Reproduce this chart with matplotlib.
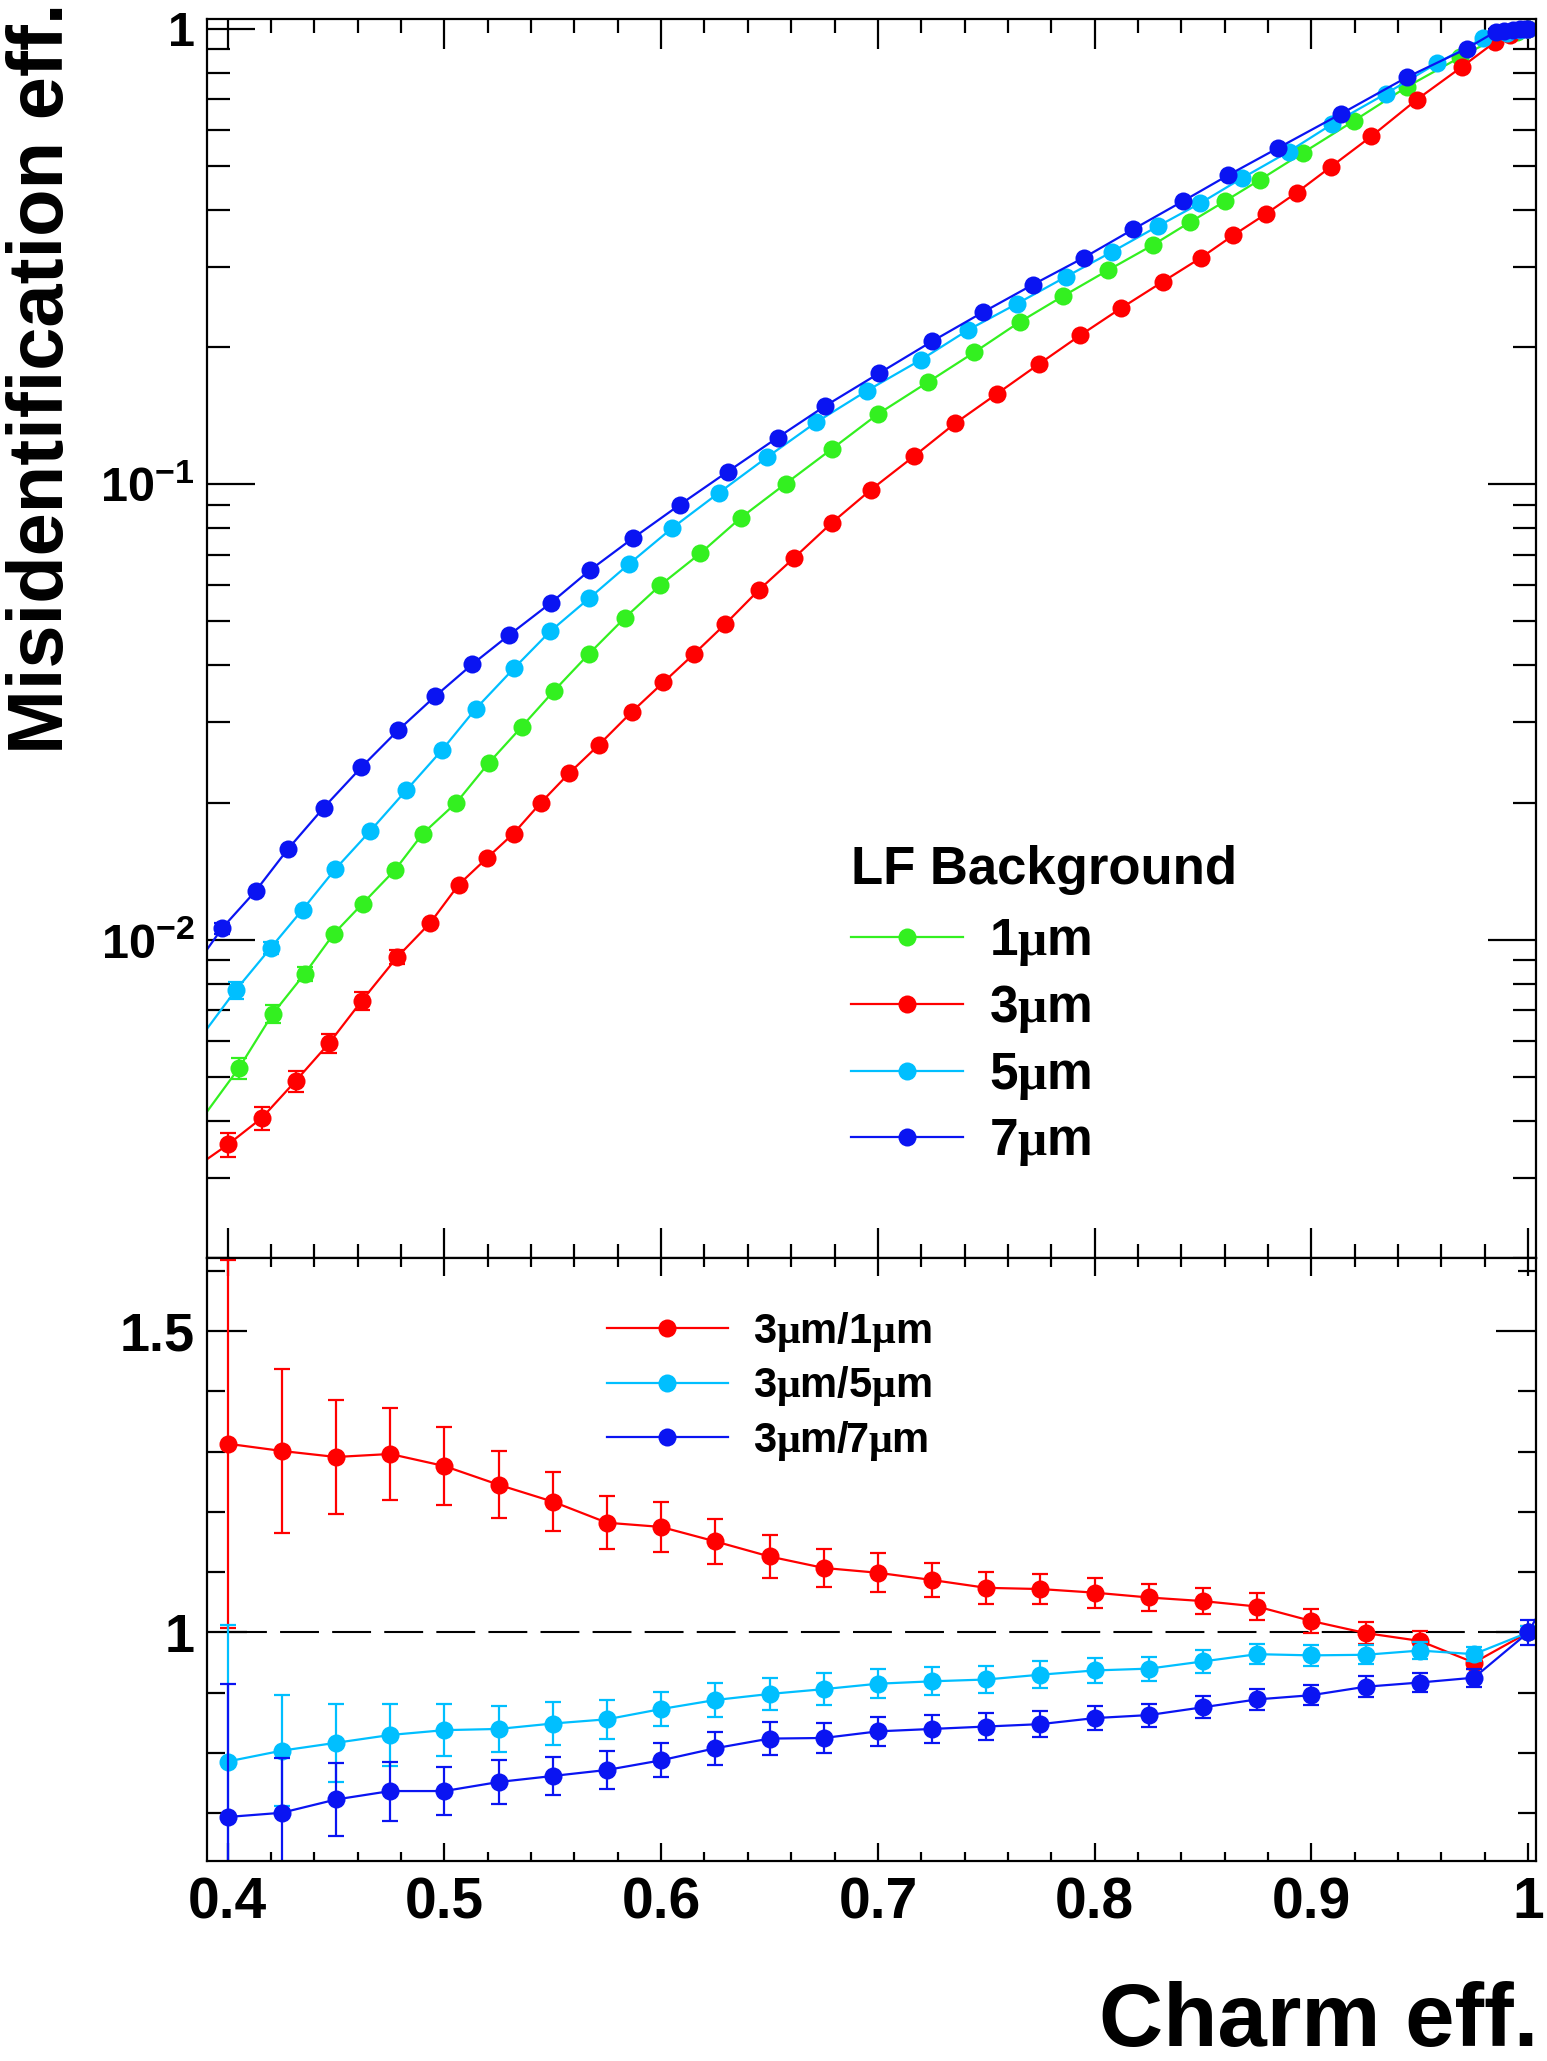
import numpy as np
import matplotlib.pyplot as plt
from matplotlib.ticker import FixedLocator, MultipleLocator, NullFormatter

plt.rcParams['font.family'] = ['Liberation Sans', 'DejaVu Sans']
plt.rcParams['font.weight'] = 'bold'
plt.rcParams['mathtext.fontset'] = 'custom'
plt.rcParams['mathtext.rm'] = 'Liberation Serif'
plt.rcParams['mathtext.it'] = 'Liberation Serif:italic'
plt.rcParams['mathtext.bf'] = 'Liberation Sans:bold'
plt.rcParams['lines.scale_dashes'] = False

# ---- top pad: misid. eff. vs charm eff. (first point of each list lies left of the frame)
green_x = [0.385, 0.4053, 0.4208, 0.4356, 0.4490, 0.4623, 0.4772, 0.4901, 0.5056, 0.5204, 0.5356, 0.5504,
           0.5667, 0.5833, 0.5996, 0.6181, 0.6368, 0.6574, 0.6786, 0.7000, 0.7233, 0.7444, 0.7654, 0.7856,
           0.8062, 0.8267, 0.8440, 0.8601, 0.8763, 0.8961, 0.9195, 0.9440, 0.9685, 0.9848, 0.9950, 1.0]
green_y = [0.00386, 0.00523, 0.00687, 0.00842, 0.0103, 0.0120, 0.01422, 0.0171, 0.0200, 0.0244, 0.0293, 0.0351,
           0.0424, 0.0509, 0.0600, 0.0705, 0.0844, 0.1002, 0.1193, 0.1425, 0.1677, 0.1946, 0.2270, 0.2590,
           0.2950, 0.3346, 0.3760, 0.4180, 0.4660, 0.5340, 0.6270, 0.7450, 0.8650, 0.9510, 0.9850, 1.0]
green_err = [0.00028, 0.00030, 0.00030]

red_x = [0.385, 0.4002, 0.4158, 0.4315, 0.4469, 0.4619, 0.4782, 0.4936, 0.5066, 0.5195, 0.5319, 0.5446,
         0.5576, 0.5714, 0.5864, 0.6010, 0.6152, 0.6296, 0.6450, 0.6615, 0.6788, 0.6969, 0.7165, 0.7358,
         0.7550, 0.7743, 0.7932, 0.8121, 0.8313, 0.8490, 0.8640, 0.8790, 0.8932, 0.9088, 0.9276, 0.9485,
         0.9695, 0.9846, 0.9916, 1.0]
red_y = [0.00316, 0.00355, 0.00406, 0.0049, 0.00593, 0.00734, 0.00915, 0.0109, 0.0132, 0.01508, 0.0171, 0.0200,
         0.0232, 0.0268, 0.0316, 0.0367, 0.0424, 0.0493, 0.0585, 0.0690, 0.0823, 0.0973, 0.1150, 0.1362,
         0.1580, 0.1835, 0.2120, 0.2433, 0.2780, 0.3140, 0.3520, 0.3920, 0.4366, 0.4966, 0.5800, 0.6980,
         0.8250, 0.9340, 0.9700, 1.0]
red_err = [0.00021, 0.00024, 0.00026, 0.00028, 0.00033, 0.00033]

cyan_x = [0.384, 0.4037, 0.4198, 0.4346, 0.4496, 0.4658, 0.4825, 0.4990, 0.5144, 0.5323, 0.5488, 0.5667,
          0.5852, 0.6051, 0.6265, 0.6488, 0.6714, 0.6948, 0.7200, 0.7416, 0.7642, 0.7866, 0.8082, 0.8290,
          0.8488, 0.8681, 0.8895, 0.9095, 0.9344, 0.9580, 0.9790, 0.9900, 0.9960, 1.0]
cyan_y = [0.00579, 0.00774, 0.00958, 0.01164, 0.01427, 0.01732, 0.0213, 0.0261, 0.0321, 0.0395, 0.0475, 0.0561,
          0.0668, 0.0801, 0.0956, 0.1145, 0.1366, 0.1602, 0.1877, 0.2180, 0.2490, 0.2850, 0.3240, 0.3680,
          0.4140, 0.4700, 0.5370, 0.6170, 0.7200, 0.8400, 0.9520, 0.9800, 0.9950, 1.0]
cyan_err = [0.00033, 0.00030]

blue_x = [0.382, 0.3975, 0.4130, 0.4278, 0.4444, 0.4617, 0.4786, 0.4957, 0.5128, 0.5298, 0.5490, 0.5671,
          0.5870, 0.6086, 0.6307, 0.6537, 0.6757, 0.7004, 0.7251, 0.7484, 0.7716, 0.7949, 0.8179, 0.8407,
          0.8617, 0.8846, 0.9136, 0.9440, 0.9716, 0.9850, 0.9890, 0.9930, 0.9960, 0.9985, 1.0]
blue_y = [0.00834, 0.0106, 0.0128, 0.0158, 0.0195, 0.0239, 0.0288, 0.0342, 0.0402, 0.0466, 0.0548, 0.0647,
          0.0761, 0.0901, 0.1065, 0.1265, 0.1485, 0.1750, 0.2060, 0.2384, 0.2743, 0.3140, 0.3630, 0.4180,
          0.4770, 0.5470, 0.6500, 0.7820, 0.9040, 0.9850, 0.9900, 0.9940, 0.9970, 0.9990, 1.0]
blue_err = [0.00030]

# ---- bottom pad: ratios (last point sits right of the frame)
ratio_x = [0.400, 0.425, 0.450, 0.475, 0.500, 0.525, 0.550, 0.575, 0.600, 0.625, 0.650, 0.675, 0.700,
           0.725, 0.750, 0.775, 0.800, 0.825, 0.850, 0.875, 0.900, 0.925, 0.950, 0.975, 1.000, 1.025]
r31 = [1.313, 1.301, 1.291, 1.296, 1.276, 1.245, 1.217, 1.182, 1.175, 1.151, 1.126, 1.107, 1.099,
       1.087, 1.074, 1.072, 1.066, 1.058, 1.052, 1.043, 1.019, 0.999, 0.986, 0.950, 1.000, 0.995]
r31_err = [0.305, 0.136, 0.095, 0.077, 0.064, 0.056, 0.049, 0.044, 0.041, 0.037, 0.035, 0.032, 0.032,
           0.028, 0.026, 0.025, 0.025, 0.023, 0.022, 0.022, 0.020, 0.018, 0.017, 0.011, 0.010, 0.0]
r35 = [0.786, 0.804, 0.817, 0.830, 0.838, 0.840, 0.849, 0.856, 0.873, 0.888, 0.898, 0.906, 0.915,
       0.919, 0.922, 0.930, 0.937, 0.940, 0.952, 0.964, 0.962, 0.963, 0.970, 0.964, 1.000, 1.000]
r35_err = [0.227, 0.092, 0.065, 0.052, 0.043, 0.038, 0.035, 0.032, 0.028, 0.028, 0.026, 0.026, 0.024,
           0.023, 0.022, 0.022, 0.021, 0.020, 0.019, 0.017, 0.018, 0.016, 0.014, 0.012, 0.010, 0.0]
r37 = [0.694, 0.701, 0.723, 0.737, 0.737, 0.752, 0.762, 0.772, 0.788, 0.808, 0.824, 0.825, 0.836,
       0.840, 0.844, 0.848, 0.858, 0.863, 0.876, 0.889, 0.896, 0.910, 0.917, 0.925, 1.000, 1.160]
r37_err = [0.220, 0.090, 0.060, 0.049, 0.040, 0.037, 0.032, 0.031, 0.028, 0.027, 0.027, 0.025, 0.024,
           0.023, 0.022, 0.021, 0.020, 0.019, 0.018, 0.018, 0.017, 0.017, 0.016, 0.015, 0.020, 0.0]

top_labels = [r'$\mathbf{1}\mathrm{\mu}\mathbf{m}$', r'$\mathbf{3}\mathrm{\mu}\mathbf{m}$',
              r'$\mathbf{5}\mathrm{\mu}\mathbf{m}$', r'$\mathbf{7}\mathrm{\mu}\mathbf{m}$']
ratio_labels = [r'$\mathbf{3}\mathrm{\mu}\mathbf{m/1}\mathrm{\mu}\mathbf{m}$',
                r'$\mathbf{3}\mathrm{\mu}\mathbf{m/5}\mathrm{\mu}\mathbf{m}$',
                r'$\mathbf{3}\mathrm{\mu}\mathbf{m/7}\mathrm{\mu}\mathbf{m}$']

GREEN, RED, CYAN, BLUE = '#33f020', '#ff0000', '#00bfff', '#0a14f2'

W, H = 1547, 2061
fig = plt.figure(figsize=(W / 100, H / 100), dpi=100)
ax1 = fig.add_axes([207 / W, 1 - 1258 / H, (1536 - 207) / W, (1258 - 19) / H])
ax2 = fig.add_axes([207 / W, 1 - 1861 / H, (1536 - 207) / W, (1861 - 1258) / H])

# top pad
handles = []
for x, y, err, c in [(green_x, green_y, green_err, GREEN), (red_x, red_y, red_err, RED),
                     (cyan_x, cyan_y, cyan_err, CYAN), (blue_x, blue_y, blue_err, BLUE)]:
    n = len(err)
    ax1.errorbar(x[1:n + 1], y[1:n + 1], yerr=err, fmt='none', ecolor=c, elinewidth=1.6,
                 capsize=6, capthick=1.6)
    ln, = ax1.plot(x, y, '-', color=c, lw=1.6, marker='o', ms=13, mec=c, mew=0)
    handles.append(ln)

ax1.set_yscale('log')
ax1.set_xlim(0.3905, 1.0036)
ax1.set_ylim(0.002, 1.05)
ax1.yaxis.set_major_locator(FixedLocator([0.01, 0.1, 1.0]))
ax1.set_yticklabels([r'$\mathbf{10^{-2}}$', r'$\mathbf{10^{-1}}$', r'$\mathbf{1}$'])
ax1.yaxis.set_minor_locator(FixedLocator([k * 10.0 ** d for d in (-3, -2, -1) for k in range(2, 10)]))
ax1.yaxis.set_minor_formatter(NullFormatter())
ax1.xaxis.set_major_locator(MultipleLocator(0.1))
ax1.xaxis.set_minor_locator(MultipleLocator(0.02))
ax1.tick_params(axis='x', which='major', length=21.6)
ax1.tick_params(axis='x', which='minor', length=10)
ax1.tick_params(axis='y', which='major', length=34.5)
ax1.tick_params(axis='y', which='minor', length=16.5)
ax1.tick_params(which='both', direction='in', top=True, right=True, width=1.6,
                labelbottom=False, labelsize=35, pad=9)

leg1 = ax1.legend(handles, top_labels, loc='upper left', bbox_to_anchor=(851 / W, 1 - 845 / H),
                  bbox_transform=fig.transFigure, frameon=False, fontsize=37, numpoints=1,
                  title='LF Background', title_fontproperties={'size': 38, 'weight': 'bold'},
                  handlelength=2.18, handletextpad=0.5, labelspacing=0.30, borderpad=0,
                  borderaxespad=0, alignment='left')
leg1._legend_box.sep = 15.8  # a bit more room under the header

# bottom pad
rhandles = []
for y, err, c in [(r31, r31_err, RED), (r35, r35_err, CYAN), (r37, r37_err, BLUE)]:
    ax2.errorbar(ratio_x, y, yerr=err, fmt='none', ecolor=c, elinewidth=1.6, capsize=6, capthick=1.6)
    ln, = ax2.plot(ratio_x, y, '-', color=c, lw=1.6, marker='o', ms=13, mec=c, mew=0)
    rhandles.append(ln)

ax2.hlines(1.0, ratio_x[0], ratio_x[-2], colors='black', lw=1.5, linestyles=(0, (28, 9.5)), zorder=0.5)

ax2.set_xlim(0.3905, 1.0036)
ax2.set_ylim(0.621, 1.621)
ax2.xaxis.set_major_locator(FixedLocator([0.4, 0.5, 0.6, 0.7, 0.8, 0.9, 1.0]))
ax2.set_xticklabels(['0.4', '0.5', '0.6', '0.7', '0.8', '0.9', '1'])
ax2.xaxis.set_minor_locator(MultipleLocator(0.02))
ax2.yaxis.set_major_locator(FixedLocator([1.0, 1.5]))
ax2.set_yticklabels(['1', '1.5'])
ax2.yaxis.set_minor_locator(MultipleLocator(0.1))
ax2.tick_params(axis='x', which='major', length=13, labelsize=41, pad=11)
ax2.tick_params(axis='x', which='minor', length=6.5)
ax2.tick_params(axis='y', which='major', length=29, labelsize=39, pad=9)
ax2.tick_params(axis='y', which='minor', length=13)
ax2.tick_params(which='both', direction='in', top=True, right=True, width=1.6)

ax2.legend(rhandles, ratio_labels, loc='upper left', bbox_to_anchor=(607 / W, 1 - 1310 / H),
           bbox_transform=fig.transFigure, frameon=False, fontsize=30, numpoints=1,
           handlelength=2.9, handletextpad=0.6, labelspacing=0.25, borderpad=0, borderaxespad=0)

for ax in (ax1, ax2):
    for s in ax.spines.values():
        s.set_linewidth(1.6)

fig.text(43 / W, 1 - 3 / H, 'Misidentification eff.', rotation=90, ha='center', va='top',
         fontsize=56, fontweight='bold')
fig.text(1538 / W, 1 - 2046 / H, 'Charm eff.', ha='right', va='baseline', fontsize=64, fontweight='bold')

fig.savefig('out.png', dpi=100)
